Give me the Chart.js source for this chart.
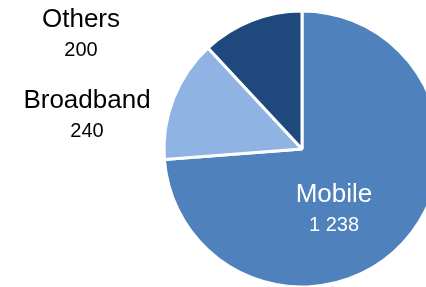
<!DOCTYPE html>
<html>
<head>
<meta charset="utf-8">
<script src="https://cdn.jsdelivr.net/npm/chart.js@4/dist/chart.umd.min.js"></script>
<style>
  html, body { margin: 0; padding: 0; background: #fff; overflow: hidden; width: 426px; height: 287px; }
  #wrap { position: absolute; left: 0; top: 0; width: 460px; height: 300px; }
</style>
</head>
<body>
<div id="wrap"><canvas id="pieChart" width="460" height="300"></canvas></div>
<script>
const categories = ['Mobile', 'Broadband', 'Others'];
const values = [1238, 240, 200];
const valueLabels = ['1 238', '240', '200'];
const sliceColors = ['#4f81bd', '#8fb4e3', '#1f497d'];

// where each label block sits, relative to the pie centre
const labelOffsets = [[32, 46], [-215, -48], [-221, -129]];
const labelColors = ['#ffffff', '#000000', '#000000'];

const sliceLabels = {
    id: 'sliceLabels',
    afterDatasetsDraw(chart) {
        const ctx = chart.ctx;
        const arcs = chart.getDatasetMeta(0).data;
        ctx.save();
        ctx.textAlign = 'center';
        ctx.textBaseline = 'middle';
        arcs.forEach((arc, i) => {
            const x = arc.x + labelOffsets[i][0];
            const y = arc.y + labelOffsets[i][1];
            ctx.fillStyle = labelColors[i];
            ctx.font = '26px "Liberation Sans", Arial, sans-serif';
            ctx.fillText(categories[i], x, y);
            ctx.font = '20px "Liberation Sans", Arial, sans-serif';
            ctx.fillText(valueLabels[i], x, y + 30);
        });
        ctx.restore();
    }
};

const ctx = document.getElementById('pieChart').getContext('2d');
const pieChart = new Chart(ctx, {
    type: 'pie',
    data: {
        labels: categories,
        datasets: [{
            data: values,
            backgroundColor: sliceColors,
            borderColor: '#ffffff',
            borderWidth: 3,
            hoverOffset: 0
        }]
    },
    options: {
        responsive: false,
        animation: false,
        radius: 138,
        layout: {
            padding: { left: 164, top: 11, right: 20, bottom: 13 }
        },
        plugins: {
            legend: { display: false },
            tooltip: { enabled: false }
        }
    },
    plugins: [sliceLabels]
});
</script>
</body>
</html>
